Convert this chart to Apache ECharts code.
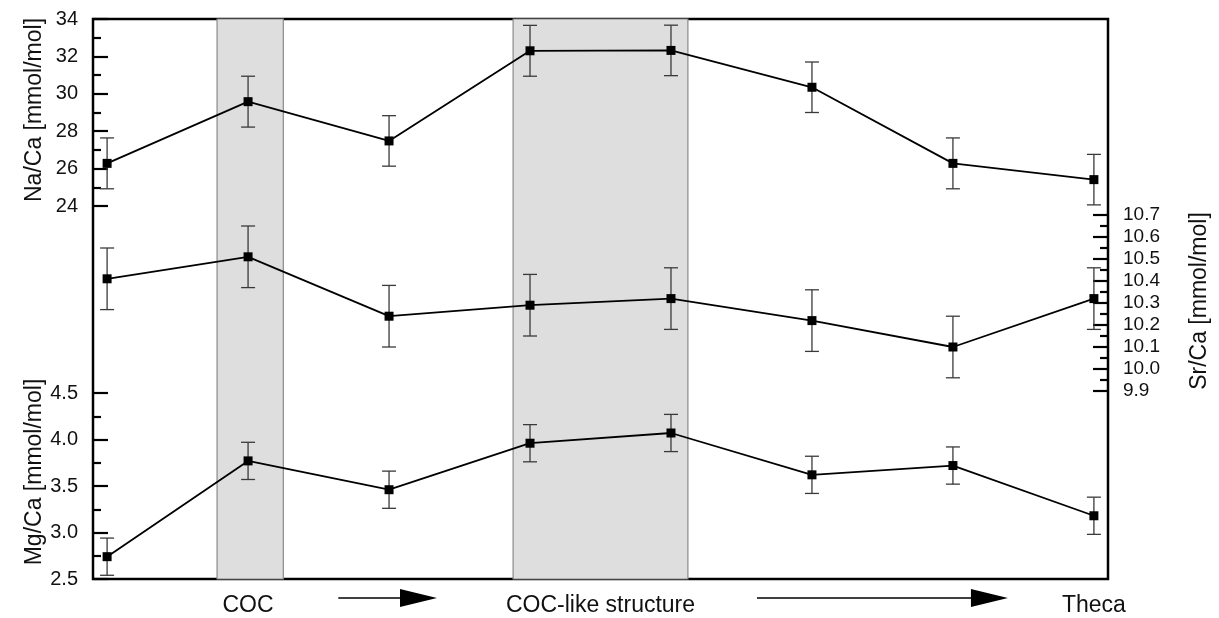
<!DOCTYPE html>
<html>
<head>
<meta charset="utf-8">
<script src="https://cdn.jsdelivr.net/npm/echarts@6/dist/echarts.min.js"></script>
<style>
  html, body { margin: 0; padding: 0; background: #fff; }
  #chart { width: 1219px; height: 618px; }
</style>
</head>
<body>
<div id="chart"></div>
<script>
// sample positions along the profile (COC -> Theca)
const positions = [0, 1, 2, 3, 4, 5, 6, 7];
const naCa = [26.28, 29.58, 27.48, 32.30, 32.32, 30.35, 26.28, 25.41];
const naCaErr = [1.36, 1.36, 1.35, 1.36, 1.35, 1.35, 1.36, 1.35];
const srCa = [10.41, 10.51, 10.24, 10.29, 10.32, 10.22, 10.10, 10.32];
const srCaErr = [0.14, 0.14, 0.14, 0.14, 0.14, 0.14, 0.14, 0.14];
const mgCa = [2.74, 3.77, 3.46, 3.96, 4.07, 3.62, 3.72, 3.18];
const mgCaErr = [0.2, 0.2, 0.2, 0.2, 0.2, 0.2, 0.2, 0.2];
// shaded structures (x from / to)
const bands = [[0.78, 1.25], [2.88, 4.12]];
// bottom labels and arrows
const xLabels = ['COC', 'COC-like structure', 'Theca'];
const xLabelPos = [1, 3.5, 7];
const arrows = [[1.64, 2.34], [4.61, 6.39]];

const FONT = "'Liberation Sans', Arial, sans-serif";
const chart = echarts.init(document.getElementById('chart'));

const gridLeft = 93, gridWidth = 1015;
const xMin = -0.1, xMax = 7.1;

function hiddenX(gridIndex) {
    return { type: 'value', gridIndex, min: xMin, max: xMax, show: false };
}

function valueAxis(gridIndex, pos, min, max, interval, digits, size) {
    return {
        type: 'value', gridIndex, position: pos, min, max, interval,
        axisLine: { show: false, onZero: false },
        splitLine: { show: false },
        axisTick: { show: true, inside: true, length: 15, lineStyle: { color: '#000', width: 2.2 } },
        minorTick: { show: true, splitNumber: 2, length: 8, lineStyle: { color: '#000', width: 2.2 } },
        axisLabel: {
            margin: 15, fontSize: size, color: '#111', fontFamily: FONT,
            formatter: (v) => v.toFixed(digits)
        }
    };
}

function toPairs(vals) {
    return positions.map((p, i) => [p, vals[i]]);
}

function errData(vals, errs) {
    return positions.map((p, i) => [p, vals[i] - errs[i], vals[i] + errs[i]]);
}

const errorRender = (params, api) => {
    const lo = api.coord([api.value(0), api.value(1)]);
    const hi = api.coord([api.value(0), api.value(2)]);
    const cap = 7;
    const style = { stroke: '#3a3a3a', lineWidth: 1.3 };
    return {
        type: 'group',
        children: [
            { type: 'line', shape: { x1: lo[0], y1: lo[1], x2: hi[0], y2: hi[1] }, style },
            { type: 'line', shape: { x1: lo[0] - cap, y1: lo[1], x2: lo[0] + cap, y2: lo[1] }, style },
            { type: 'line', shape: { x1: hi[0] - cap, y1: hi[1], x2: hi[0] + cap, y2: hi[1] }, style }
        ]
    };
};

function lineSeries(name, idx, vals) {
    return {
        name, type: 'line', xAxisIndex: idx, yAxisIndex: idx,
        data: toPairs(vals),
        symbol: 'rect', symbolSize: 9,
        itemStyle: { color: '#000' },
        lineStyle: { color: '#000', width: 1.8 },
        clip: false, z: 4
    };
}

function errSeries(idx, vals, errs) {
    return {
        type: 'custom', xAxisIndex: idx, yAxisIndex: idx,
        data: errData(vals, errs),
        renderItem: errorRender, clip: false, z: 3
    };
}

const option = {
    animation: false,
    backgroundColor: '#fff',
    grid: [
        { left: gridLeft, width: gridWidth, top: 19, height: 560, show: true, borderColor: '#000', borderWidth: 2.5, backgroundColor: 'transparent' },
        { left: gridLeft, width: gridWidth, top: 19, height: 187 },
        { left: gridLeft, width: gridWidth, top: 215, height: 176 },
        { left: gridLeft, width: gridWidth, top: 393, height: 186 }
    ],
    xAxis: [
        {
            type: 'value', gridIndex: 0, min: xMin, max: xMax,
            axisLine: { show: false }, axisTick: { show: false }, splitLine: { show: false },
            axisLabel: {
                customValues: xLabelPos,
                margin: 15, fontSize: 23, color: '#111', fontFamily: FONT,
                formatter: (v) => {
                    const k = xLabelPos.indexOf(v);
                    return k >= 0 ? xLabels[k] : '';
                }
            }
        },
        hiddenX(1), hiddenX(2), hiddenX(3)
    ],
    yAxis: [
        { type: 'value', gridIndex: 0, min: 0, max: 1, show: false },
        valueAxis(1, 'left', 24, 34, 2, 0, 20),
        valueAxis(2, 'right', 9.9, 10.7, 0.1, 1, 19),
        valueAxis(3, 'left', 2.5, 4.5, 0.5, 1, 20)
    ],
    series: [
        {
            type: 'custom', xAxisIndex: 0, yAxisIndex: 0,
            data: bands,
            z: 1,
            renderItem: (params, api) => {
                const a = api.coord([api.value(0), 1]);
                const b = api.coord([api.value(1), 0]);
                return {
                    type: 'rect',
                    shape: { x: a[0], y: a[1], width: b[0] - a[0], height: b[1] - a[1] },
                    style: { fill: '#dedede', stroke: '#8a8a8a', lineWidth: 1.2 }
                };
            }
        },
        errSeries(1, naCa, naCaErr), lineSeries('Na/Ca', 1, naCa),
        errSeries(2, srCa, srCaErr), lineSeries('Sr/Ca', 2, srCa),
        errSeries(3, mgCa, mgCaErr), lineSeries('Mg/Ca', 3, mgCa)
    ]
};

chart.setOption(option);

// axis titles and arrows
const arrowY = 598;
const titleStyle = { fontSize: 23, fontFamily: FONT, fill: '#111', align: 'center', verticalAlign: 'middle' };
const graphics = [
    { type: 'text', x: 35, y: 110, rotation: Math.PI / 2, style: Object.assign({ text: 'Na/Ca [mmol/mol]' }, titleStyle) },
    { type: 'text', x: 35, y: 472, rotation: Math.PI / 2, style: Object.assign({ text: 'Mg/Ca [mmol/mol]' }, titleStyle) },
    { type: 'text', x: 1200, y: 301, rotation: Math.PI / 2, style: Object.assign({ text: 'Sr/Ca [mmol/mol]' }, titleStyle) }
];
arrows.forEach(([a, b]) => {
    const x1 = chart.convertToPixel({ xAxisIndex: 0 }, a);
    const x2 = chart.convertToPixel({ xAxisIndex: 0 }, b);
    graphics.push({ type: 'line', shape: { x1, y1: arrowY, x2: x2 - 30, y2: arrowY }, style: { stroke: '#000', lineWidth: 1.5 } });
    graphics.push({ type: 'polygon', shape: { points: [[x2 - 37, arrowY - 9], [x2, arrowY], [x2 - 37, arrowY + 9]] }, style: { fill: '#000' } });
});
chart.setOption({ graphic: graphics });

window.addEventListener('resize', () => chart.resize());
</script>
</body>
</html>
